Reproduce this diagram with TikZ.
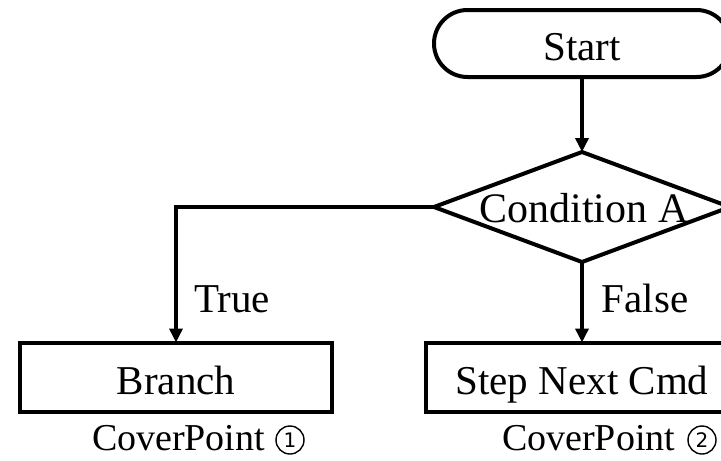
\documentclass[tikz,border=0pt]{standalone}
\usepackage{fontspec}
\setmainfont{Liberation Serif}
\newfontfamily\digitfont{DejaVu Sans}
\usetikzlibrary{arrows.meta,shapes.geometric}
\begin{document}
\begin{tikzpicture}[x=1pt,y=-1pt,
  every node/.style={inner sep=0pt, outer sep=0pt},
  bigtext/.style={font=\fontsize{41}{48}\selectfont},
  flow/.style={line width=4pt, draw=black},
  terminal/.style={flow, bigtext, rounded corners=33.5pt, minimum width=296pt,
    minimum height=67pt, text height=34pt, text depth=0pt},
  decision/.style={flow, diamond, minimum width=296pt, minimum height=110pt},
  process/.style={flow, bigtext, rectangle, minimum width=312pt, minimum height=69pt,
    text height=34pt, text depth=0pt},
  tag/.style={bigtext, anchor=base},
  note/.style={font=\fontsize{38}{44}\selectfont, anchor=base west},
  circnum/.style={draw, circle, line width=1.4pt, minimum size=28pt,
    font=\digitfont\fontsize{20}{20}\selectfont},
  arrow/.style={line width=4pt, -{Triangle[length=14pt,width=13pt]}}]
  \useasboundingbox (0,0) rectangle (721,461);
  \clip (0,0) rectangle (721,461);
  \fill[white] (0,0) rectangle (721,461);

  % flowchart blocks
  \node[terminal] (start) at (582,43.5) {Start};
  \node[decision] (cond) at (582,207) {};
  \node[tag, font=\fontsize{42}{48}\selectfont] (condtext) at (584,222) {Condition A};
  \node[process] (branch) at (176,377) {Branch};
  \node[process] (next) at (582,377) {Step Next Cmd};

  % connectors
  \draw[arrow] (start.south) -- (cond.north);
  \draw[arrow] (cond.west) -| (branch.north);
  \draw[arrow] (cond.south) -- (next.north);

  % branch labels
  \node[tag] (ltrue) at (232,312) {True};
  \node[tag] (lfalse) at (645,312) {False};

  % coverage markers
  \node[note] (cp1) at (92,450) {CoverPoint};
  \node[circnum] (cp1n) at (290,440) {1};
  \node[note] (cp2) at (502,450) {CoverPoint};
  \node[circnum] (cp2n) at (702,440) {2};
\end{tikzpicture}
\end{document}
